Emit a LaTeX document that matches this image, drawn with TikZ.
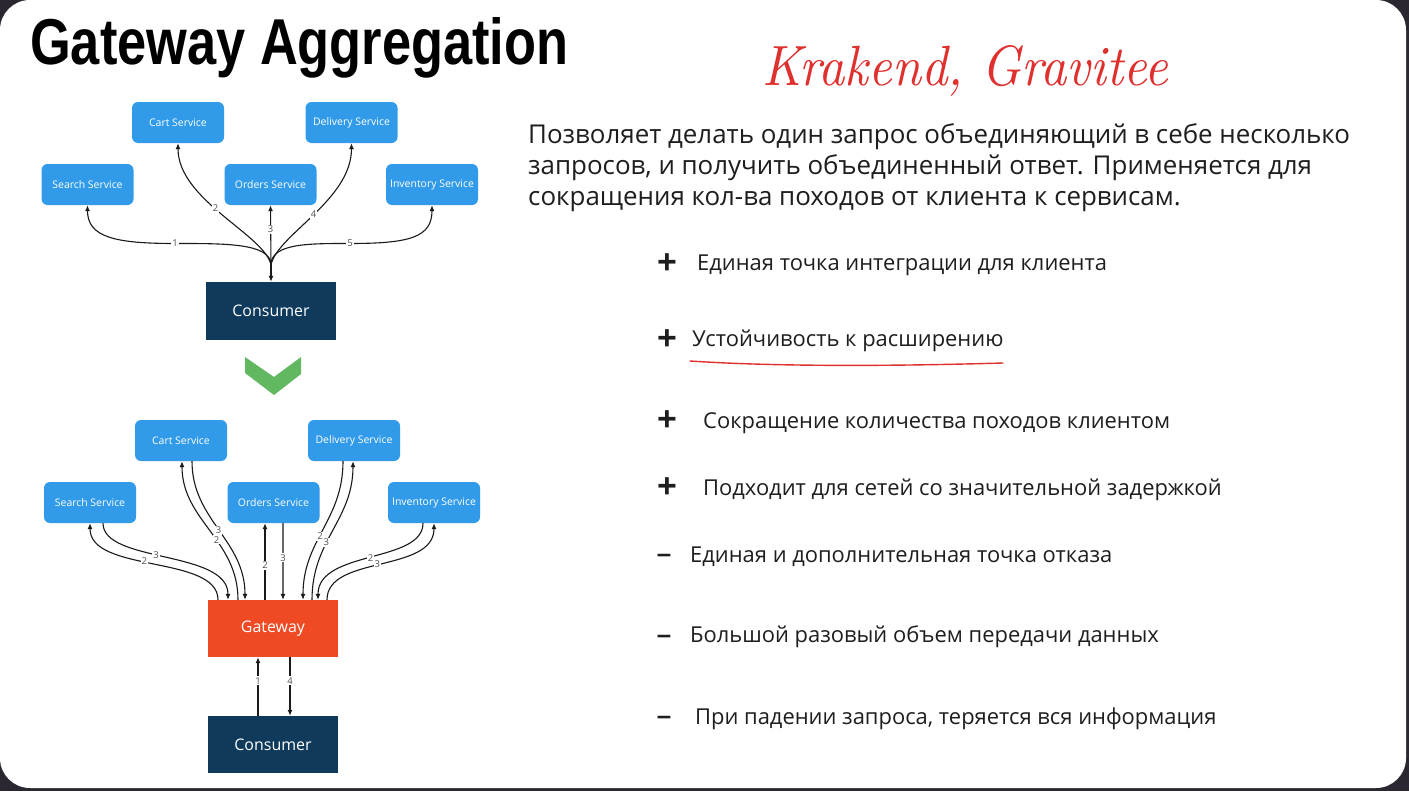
\documentclass[tikz,border=0pt]{standalone}
\usepackage{graphicx}
\usepackage{fontspec}
\newfontfamily\sans{Open Sans}
\newfontfamily\titlefont{Liberation Sans}
\usetikzlibrary{arrows.meta}

\definecolor{bgdark}{HTML}{2B2731}
\definecolor{svcblue}{HTML}{319BEA}
\definecolor{navy}{HTML}{0F3A5C}
\definecolor{gatered}{HTML}{F04A24}
\definecolor{chev}{HTML}{62B861}
\definecolor{arrowc}{HTML}{1A1A1A}
\definecolor{numgray}{HTML}{505050}
\definecolor{handred}{HTML}{E0302E}
\definecolor{textc}{HTML}{1E1E1E}

\tikzset{
  svc/.style={fill=svcblue, rounded corners=6bp, minimum width=92bp, minimum height=41bp,
    inner sep=0pt, text=white, font=\sans\fontsize{10.5}{12}\selectfont},
  bigbox/.style={minimum width=130bp, minimum height=58bp, inner sep=0pt,
    text=white, font=\sans\fontsize{16}{18}\selectfont},
  flow/.style={draw=arrowc, line width=1.1bp, -{Latex[length=6bp,width=5bp]}},
  num/.style={fill=white, inner sep=1bp, text=numgray, font=\sans\fontsize{9.5}{10}\selectfont},
  para/.style={anchor=base west, inner sep=0pt, text=textc, font=\sans\fontsize{26}{30}\selectfont},
  item/.style={anchor=base west, inner sep=0pt, text=textc, font=\sans\fontsize{22}{25}\selectfont},
  sign/.style={inner sep=0pt, text=textc, font=\titlefont\bfseries\fontsize{34}{36}\selectfont},
  minus/.style={inner sep=0pt, text=textc, font=\titlefont\bfseries\fontsize{26}{28}\selectfont},
}

\begin{document}
\begin{tikzpicture}[x=1bp,y=-1bp]
\useasboundingbox (0,0) rectangle (1409,791);
% slide frame
\fill[bgdark] (0,0) rectangle (1409,791);
\fill[white, rounded corners=30bp] (0,0) rectangle (1406,788);

% title
\node[anchor=base west, inner sep=0pt] (title) at (30,65)
  {\resizebox{538bp}{47bp}{\titlefont\bfseries Gateway Aggregation}};

% handwritten note
\node[anchor=base west, inner sep=0pt, text=handred] (hand) at (762,86)
  {\resizebox{406bp}{40bp}{\itshape Krakend, Gravitee}};

% ---------- direct calls ----------
\node[svc] (cart1) at (178,122.5) {Cart Service};
\node[svc] (deliv1) at (351.5,122.5) {Delivery Service};
\node[svc] (search1) at (87.5,184.5) {Search Service};
\node[svc] (orders1) at (270.5,184.5) {Orders Service};
\node[svc] (inv1) at (432,184.5) {Inventory Service};
\node[bigbox, fill=navy] (cons1) at (271,311) {Consumer};

\coordinate (hub) at (271,265);
\coordinate (m1) at (175,243.5);
\coordinate (m5) at (350,243.5);
\draw[flow] (hub) -- (cons1.north);
\draw[flow] (hub) .. controls +(0,-22) and +(50,0) .. (m1) node[num]{1}
  .. controls +(-60,0) and +(0,32) .. (search1.south);
\draw[flow] (hub) .. controls +(0,-22) and +(-40,0) .. (m5) node[num]{5}
  .. controls +(60,0) and +(0,32) .. (inv1.south);
\draw[flow] (hub) .. controls +(-6,-30) and +(0,57) .. node[num,pos=0.55]{2} (cart1.south);
\draw[flow] (hub) .. controls +(6,-30) and +(0,57) .. node[num,pos=0.5]{4} (deliv1.south);
\draw[flow] (hub) -- node[num,pos=0.6]{3} (orders1.south);

% transition chevron
\fill[chev] (245,357) -- (274,377) -- (301,357) -- (301,374) -- (274,395) -- (245,373) -- cycle;

% ---------- through the gateway ----------
\node[svc] (cart2) at (181,440.5) {Cart Service};
\node[svc] (deliv2) at (354,440.5) {Delivery Service};
\node[svc] (search2) at (90,502.5) {Search Service};
\node[svc] (orders2) at (273.5,502.5) {Orders Service};
\node[svc] (inv2) at (434,502.5) {Inventory Service};
\node[bigbox, fill=gatered, minimum height=57bp] (gw) at (273,628.5) {Gateway};
\node[bigbox, fill=navy, minimum height=57bp] (cons2) at (273,744.5) {Consumer};

% search
\draw[flow] ([xshift=-55bp]gw.north) .. controls +(0,-45) and +(0,50) ..
  node[num,pos=0.55]{2} (search2.south);
\draw[flow] ([xshift=13bp]search2.south) .. controls +(0,40) and +(0,-50) ..
  node[num,pos=0.45]{3} ([xshift=-45bp]gw.north);
% cart
\draw[flow] ([xshift=-35bp]gw.north) .. controls +(0,-60) and +(0,59) ..
  node[num,pos=0.42]{2} ([xshift=1bp]cart2.south);
\draw[flow] ([xshift=11bp]cart2.south) .. controls +(0,59) and +(0,-60) ..
  node[num,pos=0.5]{3} ([xshift=-28bp]gw.north);
% orders
\draw[flow] ([xshift=-8bp]gw.north) -- node[num,pos=0.45]{2} ([xshift=-8.5bp]orders2.south);
\draw[flow] ([xshift=9.5bp]orders2.south) -- node[num,pos=0.45]{3} ([xshift=10bp]gw.north);
% delivery
\draw[flow] ([xshift=-11bp]deliv2.south) .. controls +(0,59) and +(0,-60) ..
  node[num,pos=0.55]{2} ([xshift=30bp]gw.north);
\draw[flow] ([xshift=39bp]gw.north) .. controls +(0,-60) and +(0,59) ..
  node[num,pos=0.4]{3} ([xshift=-1bp]deliv2.south);
% inventory
\draw[flow] ([xshift=-11bp]inv2.south) .. controls +(0,40) and +(0,-50) ..
  node[num,pos=0.5]{2} ([xshift=45bp]gw.north);
\draw[flow] ([xshift=54bp]gw.north) .. controls +(0,-45) and +(0,50) ..
  node[num,pos=0.48]{3} (inv2.south);
% consumer <-> gateway
\draw[flow] ([xshift=-15bp]cons2.north) -- node[num,pos=0.6]{1} ([xshift=-15bp]gw.south);
\draw[flow] ([xshift=17bp]gw.south) -- node[num,pos=0.4]{4} ([xshift=17bp]cons2.north);

% ---------- description ----------
\node[para] (p1) at (528,143) {Позволяет делать один запрос объединяющий в себе несколько};
\node[para] (p2) at (528,174) {запросов, и получить объединенный ответ. Применяется для};
\node[para] (p3) at (528,205) {сокращения кол-ва походов от клиента к сервисам.};

% ---------- pros and cons ----------
\node[sign] (s1) at (667,264) {+};
\node[item] (i1) at (697,270) {Единая точка интеграции для клиента};
\node[sign] (s2) at (667,340) {+};
\node[item] (i2) at (692,346) {Устойчивость к расширению};
\node[sign] (s3) at (667,421) {+};
\node[item] (i3) at (703,428) {Сокращение количества походов клиентом};
\node[sign] (s4) at (667,488) {+};
\node[item] (i4) at (703,495) {Подходит для сетей со значительной задержкой};
\node[minus] (s5) at (664,558) {–};
\node[item] (i5) at (690,562) {Единая и дополнительная точка отказа};
\node[minus] (s6) at (664,639) {–};
\node[item] (i6) at (690,642) {Большой разовый объем передачи данных};
\node[minus] (s7) at (664,720) {–};
\node[item] (i7) at (695,724) {При падении запроса, теряется вся информация};

% hand-drawn underline
\draw[handred, line width=1.4bp, line cap=round] (690,361) .. controls (780,367) and (900,366) .. (1003,363);
\end{tikzpicture}
\end{document}
